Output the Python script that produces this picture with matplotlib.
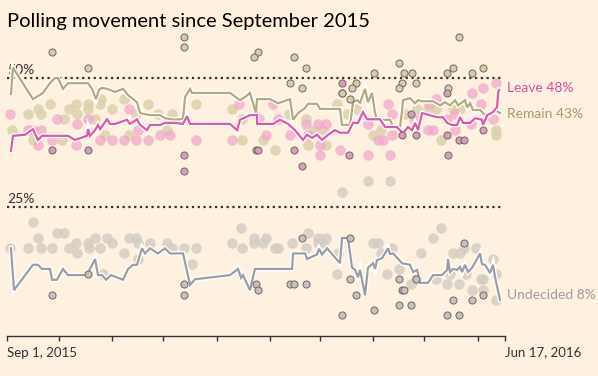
"""FT-style polling chart: Leave / Remain / Undecided since September 2015."""

import matplotlib
matplotlib.use("Agg")
import matplotlib.patheffects as pe
import matplotlib.pyplot as plt
import pandas as pd

plt.rcParams["font.family"] = ["Lato", "DejaVu Sans"]

BG = "#FFF1E0"
INK = "#333333"

LEAVE = "#DA5AA5"
LEAVE_LIGHT = "#EFA8CB"
LEAVE_RING = "#D89CB6"
REMAIN = "#B3AA7E"
REMAIN_LIGHT = "#DAD0AA"
REMAIN_RING = "#D6CDA8"
UNDEC = "#9A9EA4"
UNDEC_LIGHT = "#D2CCC3"
UNDEC_RING = "#C6C1BA"

START = "2015-09-01"
END = "2016-06-17"

# poll-of-polls lines: days since START, percent
remain_line_days = [2.3, 3.5, 15.1, 20.9, 25, 28, 29.7, 32.6, 35.5, 47.2, 49.5, 51.8, 53.6, 55.3,
                    58.2, 62.9, 67.6, 70.5, 75.7, 77.5, 83.3, 89.1, 92, 97.8, 102.5, 103.7, 106.6,
                    107.7, 129.9, 135.7, 138.6, 141.5, 145, 145.6, 153.2, 157.8, 164.8, 166.6,
                    169.5, 173.6, 175.3, 180.5, 182.3, 193.9, 195.1, 199.8, 201.5, 203.8, 205.6,
                    208.5, 210.2, 212.6, 213.2, 214.3, 215.5, 223.1, 224.8, 228.9, 230.1, 230.6,
                    234.7, 237.6, 239.4, 241.7, 248.1, 252.2, 255.1, 258, 260.9, 262.7, 266.7,
                    267.9, 269.7, 271.4, 275.5, 278.4, 281.3, 284.2, 287.1]
remain_line_pct = [46.9, 52, 45.9, 47.1, 49, 50, 50, 47.9, 49, 49, 47.9, 45.9, 47.7, 48.1,
                   47.9, 47.3, 47.9, 46.7, 45.3, 43.2, 42.8, 42.8, 42.2, 41.9, 42.1, 46.3, 47.9,
                   47.1, 47.1, 45.7, 46.3, 47.1, 43.2, 45.9, 45.9, 45.1, 45.9, 41.9,
                   43.2, 44.2, 45, 45, 44, 44, 40.9, 40.9, 45.3, 45.7, 45.2,
                   47.9, 45.3, 47.1, 45.7, 43.2, 41.9, 41.9, 40.5, 40.5, 43.8, 45.7,
                   46.1, 45.1, 45.7, 45.5, 45.5, 44.7, 45.3, 44.7, 45.7, 44.7, 45.7,
                   44.3, 45.1, 43.8, 43.8, 42.8, 42.8, 43.8, 43.2]

leave_line_days = [2.3, 3.5, 10.5, 15.1, 18, 20.4, 35.5, 39.6, 46.6, 47.2, 48.3, 51.3, 53, 54.2,
                   58.2, 60, 62.9, 69.9, 71.6, 75.7, 77.5, 81.5, 83.3, 89.1, 92, 97.8, 102.5,
                   104.8, 106.6, 129.9, 134, 135.7, 141.5, 145.6, 145.6, 154.9, 159, 163.7,
                   167.7, 172.4, 174.7, 177.6, 180.5, 183.5, 187, 191, 193.9, 198.6, 201.5,
                   204.4, 207.3, 209.7, 217.2, 220.2, 227.1, 230.6, 233.5, 235.9, 237.6, 239.4,
                   241.7, 250.4, 253.9, 256.3, 259.2, 262.1, 263.8, 265.6, 269.7, 272.6, 276.6,
                   277.2, 279.6, 283, 285.4, 286, 286.5]
leave_line_pct = [35.9, 38.8, 39, 40.1, 38, 38.8, 38.8, 38, 38.8, 40.1, 38.8, 39.9, 40.9, 40.1,
                  42, 41.1, 41.1, 41.9, 41.1, 42, 40.9, 39.9, 40.9, 40.9, 41.3, 41.3, 41.1,
                  42.6, 41.1, 41.1, 39.9, 41.9, 42.8, 42.8, 41.1, 41.1, 41.9, 41.1,
                  39.9, 38, 39, 38.4, 39, 38, 39, 39.9, 39.4, 39.4, 41.3,
                  41.3, 43.4, 42, 42, 40.5, 40.5, 39.3, 40.5, 39.9, 41.3, 39.9,
                  43.2, 42.4, 42.4, 41.3, 40.9, 40.9, 42.4, 41.3, 41.3, 42.2, 41.9,
                  40.9, 42.8, 43.4, 44.4, 47.1, 47.7]

undec_line_days = [2.3, 4.1, 15.1, 18, 20.4, 25, 26.2, 29.1, 32.6, 35.5, 46.6, 48.3, 51.3, 53,
                   55.3, 57.7, 60.6, 67.6, 70.5, 73.4, 75.7, 78.6, 80.4, 83.3, 87.9, 92, 94.9,
                   102.5, 106.6, 109.5, 129.9, 134.5, 136.3, 137.4, 141.5, 144.4, 166, 166.6,
                   173.6, 174.7, 180.5, 181.7, 183.5, 186.4, 193.9, 195.1, 198.6, 199.8, 200.9,
                   202.7, 204.4, 205.6, 208.5, 210.2, 213.2, 214.3, 215.5, 218.4, 221.9, 223.1,
                   224.8, 230.1, 234.7, 236.5, 238.8, 240.5, 245.2, 248.1, 253.3, 256.3, 256.8,
                   258, 259.8, 262.1, 263.8, 265, 266.7, 268.5, 270.8, 275.5, 276.6, 278.4,
                   281.3, 283, 284.2, 287.1]
undec_line_pct = [17, 8.9, 13.8, 13.8, 13, 13, 10.9, 10.9, 13, 11.8, 11.8, 13, 14.9, 11.8,
                  11.8, 10.9, 11.8, 10.9, 13, 13.8, 13.8, 17, 16, 17, 16, 17, 16,
                  16, 9.9, 11, 11.8, 13, 11.3, 11.8, 8.9, 13, 13, 16,
                  16, 14.9, 15.8, 16.9, 15.8, 17, 14.1, 19, 19, 16, 13.3,
                  12.8, 11.4, 12.8, 7.9, 13.2, 14.1, 13, 14.7, 15.1, 17, 15.9,
                  16, 14.1, 13.8, 12.4, 12.8, 10.3, 10.3, 11.8, 11.8, 12.8, 14.9,
                  12.4, 13, 12.8, 13.4, 12.4, 13.8, 12.4, 13.2, 16, 13.9, 13.8,
                  12.2, 13.8, 11.4, 7]

# individual polls (online = light dots, telephone = ringed dots)
remain_online_days = [3, 12, 18, 20, 15, 25, 32, 33, 36, 40, 41, 47, 47, 51, 55, 54, 57, 61, 68,
                      71, 82, 75, 88, 93, 96, 110, 131, 137, 137, 149, 156, 164, 174, 175, 184,
                      192, 186, 179, 213, 218, 198, 204, 239, 245, 250, 253, 260, 264, 285, 285,
                      232]
remain_online_pct = [40, 43, 44, 43, 38, 45, 38, 42, 44, 45, 43, 44, 45, 42, 46, 45, 39, 44, 46,
                     39, 45, 43, 43, 40, 43, 45, 44, 38, 42, 38, 36, 43, 42, 37, 40,
                     45, 37, 40, 39, 40, 43, 44, 44, 44, 44, 38, 44, 44, 40, 39,
                     43]
remain_phone_days = [26, 47, 103, 103, 146, 144, 167, 174, 165, 172, 195, 263, 228, 214, 231,
                     236, 256, 260, 271, 277, 203, 201, 230, 228, 238, 257, 200, 195]
remain_phone_pct = [55, 52, 58, 56, 55, 54, 54, 52, 49, 48, 47, 58, 53, 51, 51,
                    51, 51, 52, 51, 52, 49, 48, 49, 48, 49, 48, 46, 47]

leave_online_days = [2, 12, 15, 20, 18, 26, 29, 40, 41, 47, 54, 61, 68, 71, 75, 76, 82, 89, 95,
                     110, 131, 135, 151, 155, 147, 158, 165, 174, 181, 186, 182, 194, 182, 175,
                     222, 210, 223, 216, 219, 224, 246, 250, 245, 248, 256, 261, 271, 277, 285,
                     283, 270, 276, 261, 210, 237, 224]
leave_online_pct = [43, 40, 40, 40, 37, 38, 42, 37, 41, 42, 38, 38, 38, 44, 38, 40, 38, 39, 39,
                    38, 38, 45, 39, 45, 42, 42, 39, 41, 41, 41, 35, 36, 37, 39,
                    45, 35, 35, 38, 38, 39, 45, 46, 40, 40, 42, 43, 47, 48, 49,
                    42, 41, 45, 40, 41, 42, 43]
leave_phone_days = [26, 47, 103, 103, 145, 146, 167, 172, 195, 256, 235, 230, 238, 256, 263,
                    266, 277, 199, 257]
leave_phone_pct = [36, 36, 35, 32, 36, 36, 36, 33, 49, 47, 43, 39, 39, 39, 38,
                   38, 40, 35, 35]

undec_online_days = [2, 15, 18, 12, 20, 26, 29, 33, 36, 40, 41, 47, 48, 51, 54, 58, 61, 68, 71,
                     75, 76, 83, 93, 96, 76, 56, 103, 110, 108, 131, 136, 137, 144, 144, 149,
                     151, 156, 158, 166, 175, 174, 181, 181, 184, 186, 192, 193, 195, 210, 223,
                     213, 216, 218, 224, 221, 228, 241, 235, 238, 248, 253, 250, 256, 260, 264,
                     266, 263, 271, 273, 276, 277, 277, 283, 285, 285, 258, 267]
undec_online_pct = [17, 22, 19, 17, 17, 17, 20, 20, 17, 18, 16, 18, 17, 19, 17, 19, 18, 16, 19,
                    19, 18, 18, 18, 17, 15, 12, 17, 17, 14, 18, 21, 17, 19, 18, 18,
                    19, 17, 17, 18, 20, 17, 19, 18, 18, 19, 12, 16, 28, 30, 30,
                    18, 18, 16, 17, 12, 13, 16, 10, 11, 19, 21, 11, 10, 16, 16,
                    17, 10, 9, 17, 11, 11, 9, 15, 12, 7, 12, 12]
undec_phone_days = [26, 47, 103, 103, 172, 165, 167, 174, 145, 146, 195, 200, 200, 203, 214,
                    228, 230, 231, 228, 235, 238, 256, 263, 260, 271, 277, 266]
undec_phone_pct = [8, 12, 10, 8, 19, 10, 10, 10, 10, 9, 4, 19, 11, 8, 5,
                   11, 9, 9, 6, 6, 11, 4, 4, 7, 7, 8, 18]


def to_dates(days):
    return pd.Timestamp(START) + pd.to_timedelta(days, unit="D")


def main():
    fig = plt.figure(figsize=(5.98, 3.76), dpi=100)
    fig.set_facecolor(BG)
    # 0% sits on the axis line, 1 point = 5.16 px
    ax = fig.add_axes([7 / 598, 40 / 376, 498 / 598, 309.6 / 376])
    ax.set_facecolor(BG)
    ax.patch.set_alpha(0)
    ax.set_xlim(pd.Timestamp(START), pd.Timestamp(END))
    ax.set_ylim(0, 60)

    for side in ("top", "right", "left"):
        ax.spines[side].set_visible(False)
    ax.spines["bottom"].set_color(INK)
    ax.spines["bottom"].set_linewidth(1)
    ax.set_yticks([])

    ticks = list(pd.date_range("2015-09-01", "2016-06-01", freq="MS")) + [pd.Timestamp(END)]
    ax.set_xticks(ticks)
    labels = [""] * len(ticks)
    labels[0] = "Sep 1, 2015"
    labels[-1] = "Jun 17, 2016"
    ax.set_xticklabels(labels, fontsize=9.5, color=INK, ha="left")
    ax.tick_params(axis="x", direction="out", length=3.6, width=1, color=INK, pad=4)

    # reference lines
    for lvl in (50, 25):
        ax.plot([pd.Timestamp(START), pd.Timestamp("2016-06-15")], [lvl, lvl],
                color=INK, lw=1.6, ls=(0, (1, 1.6)), zorder=1)
        ax.text(pd.Timestamp(START), lvl + 0.35, f"{lvl}%", fontsize=10, color=INK,
                ha="left", va="bottom", zorder=2)

    # light dots
    dot = 58
    ax.scatter(to_dates(undec_online_days), undec_online_pct, s=dot, color=UNDEC_LIGHT,
               alpha=0.8, lw=0, zorder=2, clip_on=False)
    ax.scatter(to_dates(remain_online_days), remain_online_pct, s=dot, color=REMAIN_LIGHT,
               alpha=0.8, lw=0, zorder=2, clip_on=False)
    ax.scatter(to_dates(leave_online_days), leave_online_pct, s=dot, color=LEAVE_LIGHT,
               alpha=0.75, lw=0, zorder=2, clip_on=False)

    # poll-of-polls lines with a white halo
    halo = [pe.Stroke(linewidth=3.4, foreground="white"), pe.Normal()]
    for days, pct, col in ((remain_line_days, remain_line_pct, REMAIN),
                           (leave_line_days, leave_line_pct, LEAVE),
                           (undec_line_days, undec_line_pct, UNDEC)):
        ax.plot(to_dates(days), pct, color=col, lw=1.6, solid_joinstyle="miter",
                path_effects=halo, zorder=3)

    # ringed dots
    ring = 26
    for days, pct, col in ((remain_phone_days, remain_phone_pct, REMAIN_RING),
                           (leave_phone_days, leave_phone_pct, LEAVE_RING),
                           (undec_phone_days, undec_phone_pct, UNDEC_RING)):
        ax.scatter(to_dates(days), pct, s=ring, color=col, edgecolor="#6A6A6A",
                   lw=0.7, zorder=4, clip_on=False)

    # end labels
    lab_x = pd.Timestamp("2016-06-18")
    ax.text(lab_x, 48, "Leave 48%", color="#D4509C", fontsize=10, va="center", ha="left",
            clip_on=False)
    ax.text(lab_x, 43, "Remain 43%", color="#A49B6E", fontsize=10, va="center", ha="left",
            clip_on=False)
    ax.text(lab_x, 8, "Undecided 8%", color=UNDEC, fontsize=10, va="center", ha="left",
            clip_on=False)

    fig.text(7 / 598, 1 - 27 / 376, "Polling movement since September 2015",
             fontsize=14.5, color="#000000", ha="left", va="baseline")

    fig.savefig("out.png", dpi=100, facecolor=BG)
    plt.close(fig)


if __name__ == "__main__":
    main()
